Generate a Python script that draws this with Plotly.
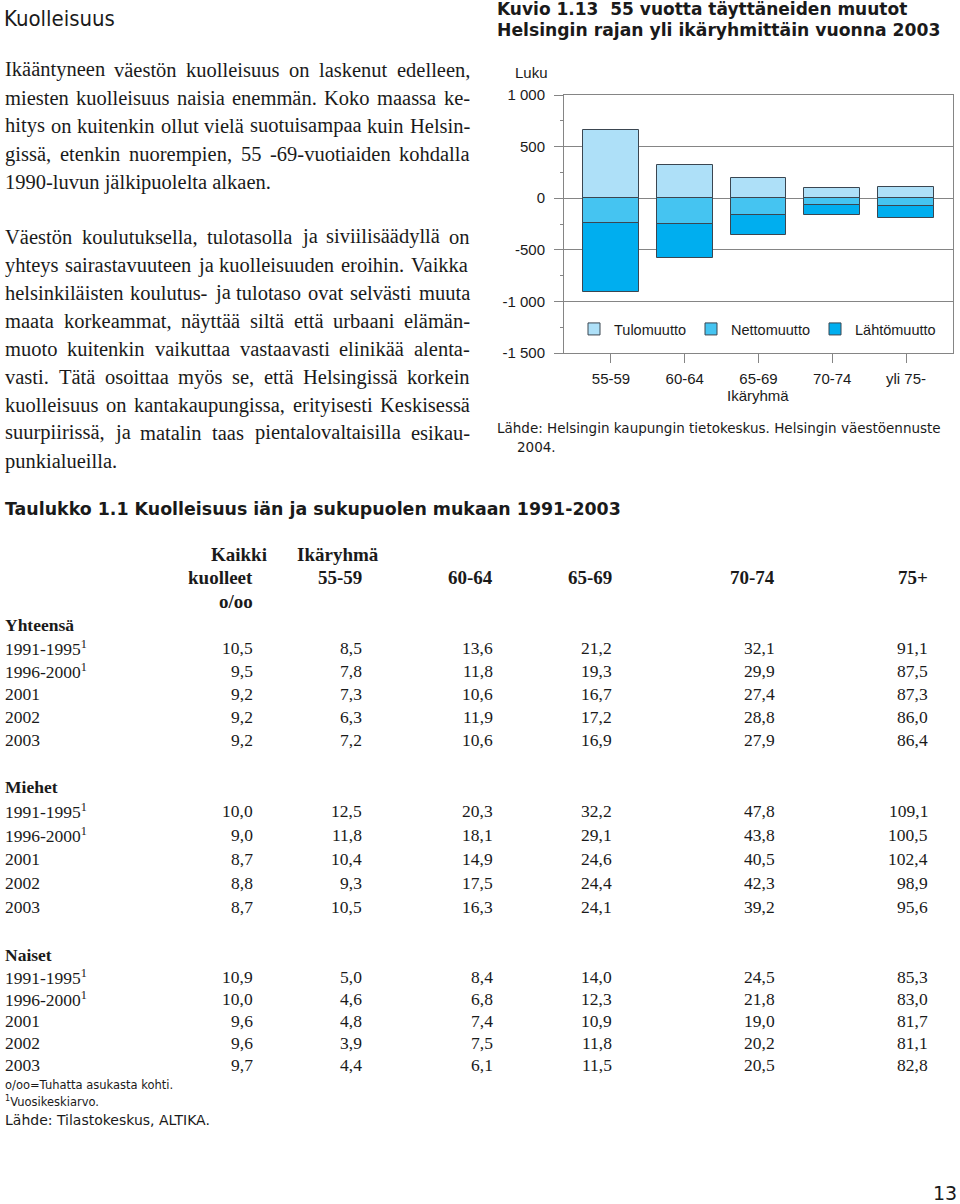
import plotly.graph_objects as go

# ---------------- data ----------------
categories = ['55-59', '60-64', '65-69', '70-74', 'yli 75-']
tulomuutto = [660, 325, 195, 100, 110]
nettomuutto = [-245, -250, -160, -65, -80]
lahtomuutto = [-905, -575, -355, -165, -190]

y_tickvals = [-1500, -1000, -500, 0, 500, 1000]
y_ticktext = ['-1 500', '-1 000', '-500', '0', '500', '1 000']

table_cols = ['55-59', '60-64', '65-69', '70-74', '75+']
row_labels = ['1991-1995<sup>1</sup>', '1996-2000<sup>1</sup>', '2001', '2002', '2003']
yhteensa = [
    ['10,5', '8,5', '13,6', '21,2', '32,1', '91,1'],
    ['9,5', '7,8', '11,8', '19,3', '29,9', '87,5'],
    ['9,2', '7,3', '10,6', '16,7', '27,4', '87,3'],
    ['9,2', '6,3', '11,9', '17,2', '28,8', '86,0'],
    ['9,2', '7,2', '10,6', '16,9', '27,9', '86,4'],
]
miehet = [
    ['10,0', '12,5', '20,3', '32,2', '47,8', '109,1'],
    ['9,0', '11,8', '18,1', '29,1', '43,8', '100,5'],
    ['8,7', '10,4', '14,9', '24,6', '40,5', '102,4'],
    ['8,8', '9,3', '17,5', '24,4', '42,3', '98,9'],
    ['8,7', '10,5', '16,3', '24,1', '39,2', '95,6'],
]
naiset = [
    ['10,9', '5,0', '8,4', '14,0', '24,5', '85,3'],
    ['10,0', '4,6', '6,8', '12,3', '21,8', '83,0'],
    ['9,6', '4,8', '7,4', '10,9', '19,0', '81,7'],
    ['9,6', '3,9', '7,5', '11,8', '20,2', '81,1'],
    ['9,7', '4,4', '6,1', '11,5', '20,5', '82,8'],
]

para1 = [
    "Ikääntyneen väestön kuolleisuus on laskenut edelleen,",
    "miesten kuolleisuus naisia enemmän. Koko maassa ke-",
    "hitys on kuitenkin ollut vielä suotuisampaa kuin Helsin-",
    "gissä, etenkin nuorempien, 55 -69-vuotiaiden kohdalla",
    "1990-luvun jälkipuolelta alkaen.",
]
para2 = [
    "Väestön koulutuksella, tulotasolla ja siviilisäädyllä on",
    "yhteys sairastavuuteen ja kuolleisuuden eroihin. Vaikka",
    "helsinkiläisten koulutus- ja tulotaso ovat selvästi muuta",
    "maata korkeammat, näyttää siltä että urbaani elämän-",
    "muoto kuitenkin vaikuttaa vastaavasti elinikää alenta-",
    "vasti. Tätä osoittaa myös se, että Helsingissä korkein",
    "kuolleisuus on kantakaupungissa, erityisesti Keskisessä",
    "suurpiirissä, ja matalin taas pientalovaltaisilla esikau-",
    "punkialueilla.",
]

# ---------------- helpers ----------------
W, H = 960, 1204
SERIF = "Liberation Serif, Times New Roman, serif"
SANS = "Liberation Sans, Arial, sans-serif"
VERD = "DejaVu Sans, Verdana, sans-serif"
NARROW = "Liberation Sans Narrow, DejaVu Sans Condensed, Liberation Sans, sans-serif"
INK = '#1a1a1a'

TIMES_W = {' ': 250, ',': 250, '.': 250, '-': 333, ':': 278,
           'A': 722, 'B': 667, 'C': 667, 'D': 722, 'E': 611, 'F': 556, 'G': 722, 'H': 722,
           'I': 333, 'J': 389, 'K': 722, 'L': 611, 'M': 889, 'N': 722, 'O': 722, 'P': 556,
           'Q': 722, 'R': 667, 'S': 556, 'T': 611, 'U': 722, 'V': 722, 'W': 944, 'X': 722,
           'Y': 722, 'Z': 611, 'Ä': 722, 'Ö': 722,
           'a': 444, 'b': 500, 'c': 444, 'd': 500, 'e': 444, 'f': 333, 'g': 500, 'h': 500,
           'i': 278, 'j': 278, 'k': 500, 'l': 278, 'm': 778, 'n': 500, 'o': 500, 'p': 500,
           'q': 500, 'r': 333, 's': 389, 't': 278, 'u': 500, 'v': 500, 'w': 722, 'x': 500,
           'y': 500, 'z': 444, 'ä': 444, 'ö': 500, 'å': 444}


def tw(s, fs):
    return sum(TIMES_W.get(c, 500) for c in s) * fs / 1000.0


def px(x):
    return x / W


def py(y):
    return 1 - y / H


annotations = []


def txt(text, x, y, size, family, xanchor='left', color=INK):
    annotations.append(dict(text=text, x=px(x), y=py(y), xref='paper', yref='paper',
                            xanchor=xanchor, yanchor='middle', showarrow=False,
                            borderpad=0, borderwidth=0,
                            font=dict(size=size, family=family, color=color)))


def paragraph(lines, y0, dy, fs, x0=5, x1=470):
    for i, line in enumerate(lines):
        y = y0 + i * dy
        words = line.split(' ')
        if i == len(lines) - 1 or len(words) == 1:
            txt(line, x0, y, fs, SERIF)
            continue
        widths = [tw(w, fs) for w in words]
        gap = (x1 - x0 - sum(widths)) / (len(words) - 1)
        x = x0
        for w, wd in zip(words, widths):
            txt(w, x, y, fs, SERIF)
            x += wd + gap


# ---------------- left text column ----------------
txt("Kuolleisuus", 4, 18, 22, NARROW)
PFS = 20.5
paragraph(para1, 70, 28, PFS)
paragraph(para2, 237, 28, PFS)

# ---------------- chart ----------------
fig = go.Figure()
edge = dict(color='#3b4651', width=1)
fig.add_bar(x=categories, y=tulomuutto, name='Tulomuutto', width=0.755,
            marker=dict(color='#aee0f8', line=edge), legendrank=1)
fig.add_bar(x=categories, y=lahtomuutto, name='Lähtömuutto', width=0.755,
            marker=dict(color='#00aeef', line=edge), legendrank=3)
fig.add_bar(x=categories, y=nettomuutto, name='Nettomuutto', width=0.755,
            marker=dict(color='#45c4f1', line=edge), legendrank=2)

txt("<b>Kuvio 1.13\u00a0\u00a055 vuotta täyttäneiden muutot</b>", 497, 9, 17, VERD)
txt("<b>Helsingin rajan yli ikäryhmittäin vuonna 2003</b>", 497, 30, 17.2, VERD)
txt("Luku", 548, 73, 15, SANS, xanchor='right')
txt("Ikäryhmä", 758, 395, 15, SANS, xanchor='center')
txt("Lähde: Helsingin kaupungin tietokeskus. Helsingin väestöennuste", 497, 428, 13.5, VERD)
txt("2004.", 517, 447, 13.5, VERD)

# ---------------- table ----------------
txt("<b>Taulukko 1.1 Kuolleisuus iän ja sukupuolen mukaan 1991-2003</b>", 5, 509, 17.4, VERD)
TFS = 17.5
HFS = 19
col_right = [253, 361.5, 493, 611.5, 775.3, 928]
txt("<b>Kaikki</b>", 267, 554, HFS, SERIF, xanchor='right')
txt("<b>Ikäryhmä</b>", 297, 554, HFS, SERIF)
txt("<b>kuolleet</b>", col_right[0], 577, HFS, SERIF, xanchor='right')
for c, lab in enumerate(table_cols):
    txt("<b>%s</b>" % lab, col_right[c + 1], 577, HFS, SERIF, xanchor='right')
txt("<b>o/oo</b>", col_right[0], 601, HFS, SERIF, xanchor='right')

sections = [("Yhteensä", yhteensa, 625, 647.5, 23.0),
            ("Miehet", miehet, 787, 811, 23.9),
            ("Naiset", naiset, 955, 977, 22.0)]
for title, rows, ty, r0, dr in sections:
    txt("<b>%s</b>" % title, 5, ty, TFS, SERIF)
    for i, (lab, vals) in enumerate(zip(row_labels, rows)):
        y = r0 + i * dr
        txt(lab, 5, y, TFS, SERIF)
        for c, v in enumerate(vals):
            txt(v, col_right[c], y, TFS, SERIF, xanchor='right')

txt("o/oo=Tuhatta asukasta kohti.", 5, 1085, 11.5, VERD)
txt("<sup>1</sup>Vuosikeskiarvo.", 5, 1101, 11.5, VERD)
txt("Lähde: Tilastokeskus, ALTIKA.", 5, 1120, 14, VERD)
txt("13", 957, 1193, 19, VERD, xanchor='right')

GRAY = '#858585'
fig.update_layout(
    width=W, height=H, margin=dict(l=0, r=0, t=0, b=0, pad=0, autoexpand=False),
    autosize=False,
    paper_bgcolor='white', plot_bgcolor='white',
    barmode='overlay', bargap=0,
    showlegend=True,
    legend=dict(orientation='h', x=px(574), y=py(329), xanchor='left', yanchor='middle',
                font=dict(family=SANS, size=14.5, color=INK), bgcolor='rgba(0,0,0,0)',
                traceorder='normal'),
    xaxis=dict(domain=[px(564), px(952.7)], type='category', range=[-0.637, 4.633],
               automargin=False,
               showline=True, linecolor=GRAY, linewidth=1, mirror=True,
               ticks='outside', ticklen=9, tickcolor=GRAY, showgrid=False,
               tickfont=dict(family=SANS, size=15, color=INK), ticklabelstandoff=3),
    yaxis=dict(domain=[py(353), py(95)], range=[-1500, 1000], automargin=False,
               tickvals=y_tickvals, ticktext=y_ticktext,
               showline=True, linecolor=GRAY, linewidth=1, mirror=True,
               showgrid=True, gridcolor=GRAY, gridwidth=1,
               zeroline=True, zerolinecolor=GRAY, zerolinewidth=1,
               ticks='outside', ticklen=9, tickcolor=GRAY,
               minor=dict(tickvals=[-1250, -750, -250, 250, 750], ticks='outside',
                          ticklen=3, tickcolor=GRAY, showgrid=False),
               tickfont=dict(family=SANS, size=15, color=INK), ticklabelstandoff=6),
    annotations=annotations,
)

fig.write_html("out.html", config={'displayModeBar': False},
               post_script="document.body.style.margin='0';document.body.style.overflow='hidden';")
